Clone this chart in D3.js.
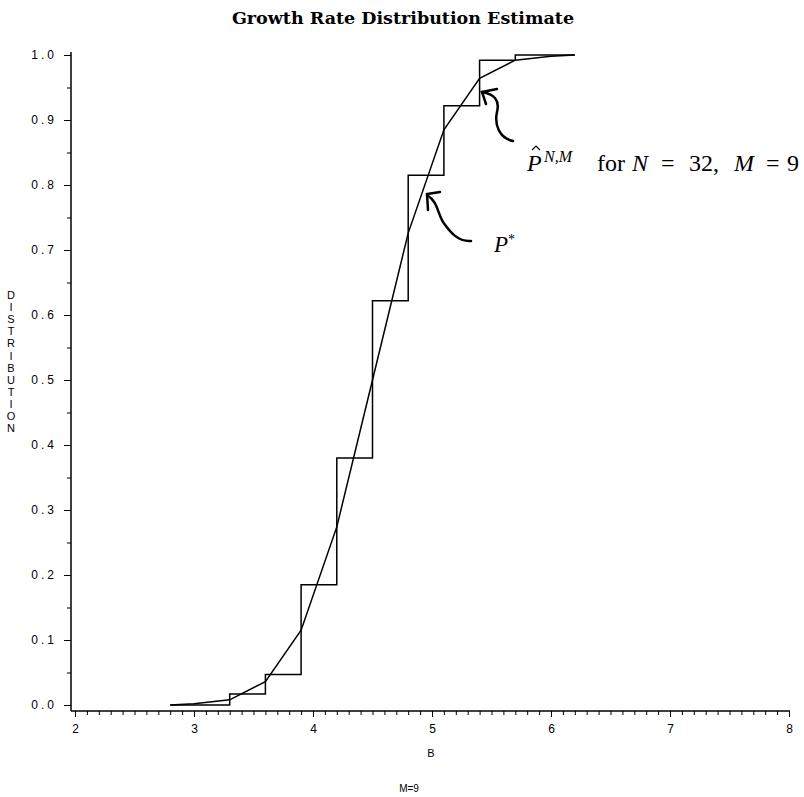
<!DOCTYPE html>
<html>
<head>
<meta charset="utf-8">
<script src="https://cdn.jsdelivr.net/npm/d3@7"></script>
<style>
  body { margin: 0; background: #fff; }
  svg { display: block; }
</style>
</head>
<body>
<div id="chart"></div>
<script>
// step estimate P^{N,M}: value holds from each x until the next one
const stepX = [2.8, 3.3, 3.6, 3.9, 4.2, 4.5, 4.8, 5.1, 5.4, 5.7, 6.2];
const stepY = [0.0, 0.017, 0.047, 0.185, 0.38, 0.622, 0.815, 0.922, 0.992, 1.0, 1.0];

// true distribution P*
const curveX = [2.8, 3.0, 3.3, 3.6, 3.9, 4.2, 4.5, 4.8, 5.1, 5.4, 5.7, 6.0, 6.2];
const curveY = [0.0, 0.002, 0.008, 0.036, 0.115, 0.274, 0.5, 0.726, 0.885, 0.964, 0.992, 0.998, 1.0];

const xTicks = [2, 3, 4, 5, 6, 7, 8];
const yTicks = [0.0, 0.1, 0.2, 0.3, 0.4, 0.5, 0.6, 0.7, 0.8, 0.9, 1.0];

const W = 804, H = 797;
const AXIS_X = 71, AXIS_Y = 711;

const svg = d3.select('#chart').append('svg')
  .attr('width', W).attr('height', H);

const x = d3.scaleLinear().domain([2, 8]).range([75, 789]);
const y = d3.scaleLinear().domain([0, 1]).range([705, 55]);

const tickFont = 'Liberation Sans, Arial, sans-serif';

// title
svg.append('text')
  .attr('x', 403).attr('y', 24)
  .attr('text-anchor', 'middle')
  .attr('font-family', 'DejaVu Serif, serif')
  .attr('font-weight', 'bold')
  .attr('font-size', 17.5)
  .text('Growth Rate Distribution Estimate');

// x axis
const xAxis = svg.append('g').attr('transform', `translate(0,${AXIS_Y})`);
xAxis.append('line')
  .attr('x1', AXIS_X).attr('x2', 790)
  .attr('stroke', '#000').attr('stroke-width', 1.5);
xAxis.call(d3.axisBottom(x).tickValues(d3.range(20, 81).map(d => d / 10))
    .tickSize(4).tickFormat(''))
  .call(g => g.select('.domain').remove());
xAxis.append('g').call(d3.axisBottom(x).tickValues(xTicks).tickSize(6)
    .tickFormat(d3.format('d')).tickPadding(7))
  .call(g => g.select('.domain').remove())
  .call(g => g.selectAll('text').attr('font-family', tickFont).attr('font-size', 12).attr('fill', '#000'));

// y axis
const yAxis = svg.append('g').attr('transform', `translate(${AXIS_X},0)`);
yAxis.append('line')
  .attr('y1', 52).attr('y2', AXIS_Y)
  .attr('stroke', '#000').attr('stroke-width', 1.5);
yAxis.call(d3.axisLeft(y).tickValues(d3.range(0, 21).map(d => d / 20))
    .tickSize(4).tickFormat(''))
  .call(g => g.select('.domain').remove());
yAxis.append('g').call(d3.axisLeft(y).tickValues(yTicks).tickSize(7)
    .tickFormat(d3.format('.1f')).tickPadding(7))
  .call(g => g.select('.domain').remove())
  .call(g => g.selectAll('text').attr('font-family', tickFont).attr('font-size', 12)
    .attr('letter-spacing', 3).attr('fill', '#000'));

// axis labels
svg.append('text')
  .attr('x', 431).attr('y', 757)
  .attr('text-anchor', 'middle')
  .attr('font-family', tickFont).attr('font-size', 11)
  .text('B');

svg.append('text')
  .attr('x', 409).attr('y', 792)
  .attr('text-anchor', 'middle')
  .attr('font-family', tickFont).attr('font-size', 10)
  .text('M=9');

const yLabel = 'DISTRIBUTION'.split('');
svg.append('g').selectAll('text')
  .data(yLabel)
  .join('text')
  .attr('x', 11)
  .attr('y', (d, i) => 299 + i * 12.1)
  .attr('text-anchor', 'middle')
  .attr('font-family', tickFont).attr('font-size', 11)
  .text(d => d);

// lines
const stepLine = d3.line()
  .x(d => x(d[0])).y(d => y(d[1]))
  .curve(d3.curveStepAfter);

svg.append('path')
  .datum(stepX.map((v, i) => [v, stepY[i]]))
  .attr('d', stepLine)
  .attr('fill', 'none').attr('stroke', '#000').attr('stroke-width', 1.5);

const curveLine = d3.line().x(d => x(d[0])).y(d => y(d[1]));
svg.append('path')
  .datum(curveX.map((v, i) => [v, curveY[i]]))
  .attr('d', curveLine)
  .attr('fill', 'none').attr('stroke', '#000').attr('stroke-width', 1.5);

// hand drawn arrows
const arrow = svg.append('g')
  .attr('fill', 'none').attr('stroke', '#000').attr('stroke-width', 2.5)
  .attr('stroke-linecap', 'round');

arrow.append('path').attr('d', 'M513,141 C500,138 494,126 497,112 C500,100 494,94 482,92');
arrow.append('path').attr('d', 'M497,89 L482,92 L486,104');

arrow.append('path').attr('d', 'M471,241 C458,242 450,232 443,222 C437,212 438,202 427,195');
arrow.append('path').attr('d', 'M440,192 L427,194 L428,210');

// annotations
const mathFont = 'Liberation Serif, Times New Roman, serif';
const ann = svg.append('g')
  .attr('font-family', mathFont).attr('font-size', 24);
const annParts = [
  { t: 'P', x: 527, it: true },
  { t: 'N,M', x: 544, it: true, sup: true },
  { t: 'for', x: 597 },
  { t: 'N', x: 632, it: true },
  { t: '=', x: 661 },
  { t: '32,', x: 689 },
  { t: 'M', x: 734, it: true },
  { t: '=', x: 766 },
  { t: '9', x: 787 }
];
ann.selectAll('text')
  .data(annParts)
  .join('text')
  .attr('x', d => d.x)
  .attr('y', d => d.sup ? 162 : 171)
  .attr('font-size', d => d.sup ? 16 : 24)
  .attr('font-style', d => d.it ? 'italic' : 'normal')
  .text(d => d.t);

// hat over P
svg.append('path')
  .attr('d', 'M532,150 L536,146 L540,150')
  .attr('fill', 'none').attr('stroke', '#000').attr('stroke-width', 1.2);

const ps = svg.append('text')
  .attr('x', 494).attr('y', 252)
  .attr('font-family', mathFont).attr('font-size', 23);
ps.append('tspan').attr('font-style', 'italic').text('P');
ps.append('tspan').attr('font-size', 14).attr('dy', -8).text('*');
</script>
</body>
</html>
